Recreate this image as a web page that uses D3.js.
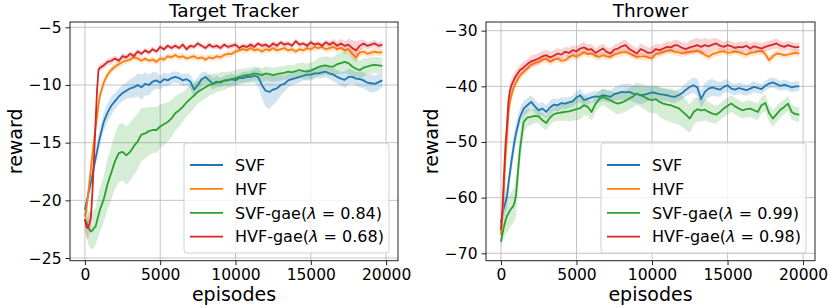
<!DOCTYPE html>
<html>
<head>
<meta charset="utf-8">
<script src="https://cdn.jsdelivr.net/npm/d3@7"></script>
<style>
  body { margin: 0; background: #fff; }
  text { font-family: "DejaVu Sans", sans-serif; fill: #000; }
</style>
</head>
<body>
<svg id="fig" width="830" height="308"></svg>
<script>
const episodes = [0,100,200,300,400,500,600,700,800,900,
  1000,1250,1500,1750,2000,2250,2500,2750,3000,3250,
  3500,3750,4000,4250,4500,4750,5000,5250,5500,5750,
  6000,6250,6500,6750,7000,7250,7500,7750,8000,8250,
  8500,8750,9000,9250,9500,9750,10000,10250,10500,10750,
  11000,11250,11500,11750,12000,12250,12500,12750,13000,13250,
  13500,13750,14000,14250,14500,14750,15000,15250,15500,15750,
  16000,16250,16500,16750,17000,17250,17500,17750,18000,18250,
  18500,18750,19000,19250,19500,19750];

const seriesNames = ["SVF", "HVF", "SVF-gae", "HVF-gae"];
const seriesColors = ["#1f77b4", "#ff7f0e", "#2ca02c", "#d62728"];
const xTicks = [0, 5000, 10000, 15000, 20000];

// ---- Target Tracker ----
const ttSVF = [-20.8,-20.2,-19.6,-19.0,-18.4,-17.8,-17.1,-16.4,-15.8,-15.1,
  -14.5,-13.2,-12.4,-11.8,-11.4,-11.0,-10.7,-10.5,-10.3,-10.2,
  -10.0,-10.2,-9.9,-10.0,-9.7,-9.6,-9.8,-9.5,-9.6,-9.4,
  -9.3,-9.4,-9.6,-9.5,-9.7,-10.4,-10.0,-9.5,-9.3,-9.6,
  -9.9,-9.7,-9.8,-9.6,-9.6,-9.5,-9.6,-9.4,-9.4,-9.3,
  -9.3,-9.2,-9.3,-10.0,-10.5,-10.6,-10.4,-10.3,-10.0,-9.9,
  -9.6,-9.5,-9.4,-9.3,-9.2,-9.1,-9.1,-9.0,-9.0,-8.9,
  -8.85,-9.0,-9.1,-9.3,-9.45,-9.55,-9.3,-9.3,-9.45,-9.5,
  -9.6,-9.8,-9.85,-9.9,-9.75,-9.6];
const ttHVF = [-21.4,-20.8,-19.6,-18.4,-17.2,-16.0,-14.9,-13.8,-12.8,-11.7,
  -10.9,-9.8,-9.1,-8.7,-8.4,-8.2,-8.0,-7.9,-7.8,-7.6,
  -7.7,-7.9,-7.7,-7.9,-7.8,-8.0,-7.7,-7.8,-7.5,-7.6,
  -7.4,-7.6,-7.5,-7.7,-7.6,-7.5,-7.7,-7.6,-7.8,-7.6,
  -7.7,-7.5,-7.6,-7.4,-7.3,-7.3,-7.1,-7.0,-6.9,-7.0,
  -6.8,-7.0,-6.9,-7.1,-6.9,-7.0,-6.8,-7.0,-6.9,-6.8,
  -7.0,-6.9,-7.1,-6.9,-7.0,-6.8,-6.9,-6.7,-6.8,-6.7,
  -6.9,-6.8,-6.7,-6.9,-6.8,-7.0,-6.9,-7.3,-7.6,-7.2,
  -7.1,-7.3,-7.2,-7.1,-7.2,-7.15];
const ttSVFgae = [-21.7,-21.9,-22.3,-22.5,-22.7,-22.6,-22.4,-22.3,-21.8,-21.3,
  -20.8,-19.9,-18.6,-17.6,-16.6,-15.9,-15.8,-16.1,-15.8,-15.3,
  -14.9,-14.3,-14.2,-14.0,-13.9,-13.9,-13.6,-13.4,-13.2,-12.9,
  -12.45,-12.2,-11.9,-11.5,-11.2,-10.9,-10.6,-10.4,-10.2,-10.0,
  -9.9,-9.8,-9.7,-9.65,-9.55,-9.5,-9.4,-9.3,-9.2,-9.15,
  -9.1,-9.0,-9.05,-9.15,-9.0,-9.05,-9.15,-9.05,-9.0,-8.95,
  -8.85,-8.9,-8.8,-8.7,-8.8,-8.85,-8.75,-8.6,-8.45,-8.35,
  -8.3,-8.4,-8.4,-8.2,-8.1,-8.0,-8.1,-8.4,-8.6,-8.7,
  -8.5,-8.4,-8.3,-8.25,-8.3,-8.35];
const ttHVFgae = [-21.6,-22.3,-22.4,-22.0,-21.5,-19.2,-16.5,-13.5,-10.6,-8.7,
  -8.5,-8.3,-8.0,-7.9,-7.7,-7.9,-7.5,-7.6,-7.3,-7.5,
  -7.1,-7.3,-7.0,-7.2,-6.9,-7.1,-6.7,-6.9,-6.6,-6.8,
  -6.6,-6.8,-6.5,-6.9,-6.6,-6.7,-6.4,-6.6,-6.8,-6.5,
  -6.7,-6.6,-6.8,-6.5,-6.7,-6.6,-6.5,-6.8,-6.6,-6.7,
  -6.5,-6.7,-6.4,-6.6,-6.5,-6.7,-6.4,-6.6,-6.3,-6.5,
  -6.4,-6.6,-6.2,-6.5,-6.4,-6.6,-6.3,-6.5,-6.4,-6.6,
  -6.3,-6.5,-6.3,-6.6,-6.4,-6.6,-6.5,-6.8,-7.0,-6.6,
  -6.4,-6.6,-6.5,-6.4,-6.6,-6.5];
// half widths of the shaded bands
const ttSVFband = [0.4,0.4,0.5,0.5,0.5,0.6,0.6,0.6,0.7,0.7,
  0.8,0.8,0.8,0.8,0.7,0.7,0.7,0.7,0.8,0.9,
  1.0,1.1,1.0,0.9,0.8,0.7,0.6,0.6,0.5,0.5,
  0.5,0.5,0.5,0.5,0.6,0.7,0.7,0.6,0.5,0.5,
  0.5,0.5,0.4,0.4,0.5,0.5,0.4,0.4,0.5,0.5,
  0.5,0.6,0.8,1.1,1.4,1.5,1.3,1.1,0.9,0.7,
  0.6,0.5,0.5,0.5,0.4,0.5,0.5,0.5,0.4,0.5,
  0.5,0.5,0.6,0.6,0.6,0.7,0.7,0.6,0.6,0.7,
  0.7,0.7,0.8,0.7,0.7,0.6];
const ttHVFband = [0.6,0.6,0.6,0.6,0.6,0.6,0.5,0.5,0.5,0.5,
  0.5,0.4,0.35,0.3,0.3,0.3,0.3,0.25,0.25,0.25,
  0.25,0.3,0.25,0.25,0.3,0.25,0.25,0.3,0.25,0.25,
  0.25,0.3,0.3,0.25,0.25,0.3,0.25,0.25,0.3,0.25,
  0.25,0.25,0.3,0.25,0.25,0.3,0.25,0.25,0.3,0.25,
  0.25,0.3,0.25,0.25,0.3,0.25,0.25,0.3,0.25,0.25,
  0.25,0.3,0.25,0.25,0.3,0.25,0.25,0.3,0.25,0.25,
  0.3,0.3,0.3,0.3,0.3,0.35,0.4,0.5,0.5,0.4,
  0.3,0.3,0.3,0.3,0.3,0.3];
const ttSVFgaeBand = [1.0,1.2,1.4,1.5,1.6,1.6,1.6,1.6,1.7,1.8,
  1.9,2.0,2.2,2.3,2.4,2.5,2.5,2.5,2.5,2.5,
  2.4,2.3,2.2,2.1,2.0,2.0,1.9,1.8,1.7,1.6,
  1.5,1.4,1.3,1.2,1.2,1.1,1.0,1.0,1.0,0.9,
  0.9,0.8,0.8,0.8,0.7,0.7,0.7,0.7,0.6,0.6,
  0.6,0.6,0.6,0.6,0.6,0.6,0.6,0.6,0.6,0.6,
  0.6,0.6,0.6,0.6,0.7,0.7,0.7,0.7,0.8,0.8,
  0.8,0.8,0.8,0.9,0.9,1.0,1.0,0.9,0.9,0.8,
  0.8,0.7,0.7,0.7,0.7,0.7];
const ttHVFgaeBand = [0.8,0.9,1.0,0.9,0.8,0.7,0.6,0.5,0.4,0.35,
  0.3,0.3,0.3,0.3,0.25,0.25,0.25,0.25,0.25,0.25,
  0.25,0.25,0.2,0.25,0.25,0.2,0.25,0.25,0.2,0.25,
  0.25,0.2,0.25,0.25,0.2,0.25,0.25,0.2,0.25,0.25,
  0.2,0.25,0.25,0.2,0.25,0.25,0.2,0.25,0.25,0.2,
  0.25,0.25,0.2,0.25,0.25,0.2,0.25,0.25,0.2,0.25,
  0.25,0.2,0.25,0.25,0.2,0.25,0.25,0.2,0.25,0.25,
  0.25,0.3,0.3,0.35,0.4,0.4,0.5,0.7,0.8,0.5,
  0.35,0.3,0.3,0.3,0.3,0.3];
const ttYTicks = [-25, -20, -15, -10, -5];
const ttLambdas = ["0.84", "0.68"];

// ---- Thrower ----
const thSVF = [-64.5,-63.0,-61.8,-60.8,-59.8,-57.4,-55.4,-53.4,-51.6,-49.8,
  -48.4,-45.6,-44.0,-43.4,-42.8,-43.6,-44.3,-44.0,-44.6,-43.8,
  -43.3,-43.4,-43.0,-43.1,-42.9,-42.7,-42.0,-41.6,-42.5,-42.2,
  -42.0,-41.8,-41.9,-41.6,-41.7,-41.9,-41.4,-41.2,-41.0,-41.1,
  -41.0,-41.3,-41.4,-41.6,-41.5,-41.3,-41.1,-41.2,-41.4,-41.5,
  -41.6,-41.8,-41.9,-41.6,-41.2,-40.6,-40.1,-39.8,-40.2,-42.3,
  -41.0,-40.4,-40.2,-40.4,-40.6,-40.1,-39.8,-40.4,-40.6,-40.3,
  -40.5,-40.7,-40.4,-40.1,-40.3,-40.5,-39.9,-39.5,-39.3,-39.6,
  -39.9,-39.7,-39.9,-40.2,-40.0,-40.0];
const thHVF = [-66.7,-63.5,-58.5,-53.0,-49.0,-44.8,-42.8,-41.6,-40.6,-39.9,
  -39.3,-38.1,-37.4,-36.8,-36.1,-35.8,-35.6,-35.2,-35.0,-35.6,
  -35.2,-35.0,-35.4,-35.3,-34.8,-34.4,-34.7,-34.3,-33.9,-34.2,
  -34.1,-34.5,-34.7,-34.4,-34.6,-34.7,-34.3,-34.1,-33.9,-33.8,
  -34.1,-34.4,-34.7,-34.6,-34.6,-34.8,-35.0,-34.2,-34.0,-33.8,
  -33.6,-33.5,-33.8,-33.9,-34.1,-33.9,-33.8,-33.7,-33.6,-33.9,
  -34.3,-34.7,-34.2,-34.0,-33.8,-33.7,-34.0,-33.9,-33.7,-33.9,
  -34.1,-34.3,-34.0,-33.9,-33.7,-33.6,-34.2,-35.3,-34.6,-34.1,
  -34.2,-34.4,-34.3,-34.1,-34.0,-34.1];
const thSVFgae = [-67.9,-66.5,-65.2,-64.1,-63.3,-62.8,-62.3,-61.9,-61.6,-60.9,
  -59.5,-51.5,-46.4,-45.6,-45.5,-45.3,-45.4,-46.1,-46.6,-45.6,
  -45.0,-44.8,-44.7,-44.6,-44.5,-44.3,-44.1,-43.9,-43.4,-43.7,
  -44.6,-43.2,-42.3,-41.9,-42.2,-42.5,-42.9,-43.1,-42.9,-42.6,
  -42.2,-41.8,-41.3,-41.6,-41.9,-42.3,-42.5,-42.3,-42.8,-43.1,
  -43.3,-43.4,-43.7,-43.9,-44.5,-45.1,-45.8,-44.6,-44.1,-44.3,
  -44.2,-44.6,-44.9,-45.1,-44.6,-44.0,-43.5,-43.1,-43.6,-44.0,
  -44.3,-44.1,-44.0,-44.3,-44.6,-43.4,-43.0,-44.8,-45.8,-45.0,
  -44.2,-43.7,-43.1,-44.6,-45.0,-45.1];
const thHVFgae = [-65.8,-62.0,-56.0,-50.5,-47.0,-42.5,-40.8,-39.8,-39.2,-38.6,
  -38.1,-37.1,-36.6,-36.0,-35.5,-35.3,-35.0,-34.6,-34.4,-34.8,
  -34.5,-34.1,-34.3,-33.8,-34.0,-33.5,-33.7,-33.2,-33.0,-33.4,
  -33.3,-34.0,-33.6,-33.2,-33.8,-34.1,-33.4,-33.2,-32.8,-32.6,
  -33.3,-33.7,-34.1,-33.3,-33.6,-34.0,-33.9,-33.3,-33.5,-33.2,
  -32.9,-33.0,-32.6,-32.7,-33.1,-33.3,-33.0,-32.8,-32.6,-32.9,
  -32.6,-32.8,-32.5,-32.3,-32.7,-32.9,-32.6,-32.8,-33.1,-32.9,
  -33.0,-32.7,-33.2,-32.8,-33.0,-33.2,-32.9,-32.7,-32.5,-32.3,
  -32.7,-32.9,-32.6,-32.8,-33.0,-32.9];
const thSVFband = [1.0,1.4,1.8,2.0,2.0,2.0,2.0,2.0,1.9,1.8,
  1.8,1.6,1.4,1.3,1.2,1.2,1.2,1.2,1.2,1.2,
  1.1,1.1,1.1,1.0,1.0,1.0,1.1,1.2,1.1,1.0,
  1.0,1.0,1.0,1.1,1.1,1.1,1.2,1.3,1.4,1.5,
  1.5,1.5,1.6,1.6,1.5,1.4,1.3,1.2,1.2,1.1,
  1.1,1.1,1.1,1.1,1.1,1.2,1.3,1.4,1.5,1.6,
  1.6,1.6,1.5,1.4,1.3,1.2,1.1,1.0,1.0,1.0,
  1.0,1.0,1.0,1.0,0.9,0.9,0.9,0.9,0.9,0.9,
  0.9,0.9,0.9,0.9,0.9,0.9];
const thHVFband = [0.8,1.0,1.2,1.3,1.3,1.2,1.1,1.0,0.9,0.9,
  0.8,0.8,0.7,0.7,0.7,0.7,0.7,0.7,0.7,0.7,
  0.6,0.7,0.6,0.6,0.7,0.6,0.6,0.7,0.6,0.6,
  0.6,0.7,0.6,0.6,0.7,0.6,0.6,0.7,0.6,0.6,
  0.6,0.7,0.6,0.6,0.7,0.6,0.6,0.7,0.6,0.6,
  0.6,0.7,0.6,0.6,0.7,0.6,0.6,0.7,0.6,0.6,
  0.6,0.7,0.6,0.6,0.7,0.6,0.6,0.7,0.6,0.6,
  0.6,0.7,0.6,0.6,0.7,0.6,0.7,0.8,0.7,0.6,
  0.6,0.6,0.6,0.6,0.6,0.6];
const thSVFgaeBand = [1.2,1.5,2.0,2.5,3.0,3.0,3.0,3.0,3.0,3.2,
  3.5,3.0,2.0,1.6,1.4,1.3,1.3,1.3,1.3,1.3,
  1.3,1.4,1.5,1.6,1.8,1.9,2.0,2.0,1.8,1.6,
  1.6,1.5,1.5,1.5,1.6,1.7,1.8,1.9,1.9,1.9,
  1.9,2.0,2.0,2.1,2.2,2.3,2.4,2.5,2.7,2.8,
  2.9,3.0,3.0,2.9,2.8,2.7,2.6,2.4,2.2,2.0,
  1.9,1.8,1.7,1.6,1.5,1.5,1.5,1.5,1.5,1.5,
  1.5,1.5,1.5,1.5,1.5,1.5,1.5,1.5,1.5,1.4,
  1.4,1.3,1.3,1.3,1.3,1.3];
const thHVFgaeBand = [1.0,1.2,1.5,1.8,2.0,1.8,1.5,1.3,1.2,1.1,
  1.0,1.0,1.0,1.0,1.0,1.0,1.0,1.0,1.0,1.0,
  1.0,1.0,0.9,0.9,0.9,0.9,0.9,0.9,0.9,0.9,
  0.9,0.9,0.9,0.9,0.9,0.9,0.9,0.9,1.0,1.0,
  1.0,1.0,1.0,1.0,1.0,1.0,1.0,1.0,1.0,1.0,
  1.0,1.0,1.0,1.0,1.0,1.1,1.2,1.3,1.3,1.3,
  1.3,1.2,1.1,1.0,1.0,0.9,0.9,0.9,0.9,0.9,
  0.9,0.9,0.9,0.9,0.9,0.9,0.9,0.9,0.9,0.9,
  0.8,0.8,0.8,0.8,0.8,0.8];
const thYTicks = [-70, -60, -50, -40, -30];
const thLambdas = ["0.99", "0.98"];

var svg = d3.select("#fig");

function drawPanel(opt) {
  var x = d3.scaleLinear().domain([-990, 20790]).range([opt.left, opt.right]);
  var y = d3.scaleLinear().domain(opt.yDomain).range([opt.bottom, opt.top]);
  var g = svg.append("g");

  var clipId = "clip-" + opt.id;
  g.append("clipPath").attr("id", clipId)
    .append("rect")
    .attr("x", opt.left).attr("y", opt.top)
    .attr("width", opt.right - opt.left).attr("height", opt.bottom - opt.top);

  // grid
  g.selectAll("line.gx").data(xTicks).enter().append("line")
    .attr("x1", d => x(d)).attr("x2", d => x(d))
    .attr("y1", opt.top).attr("y2", opt.bottom)
    .attr("stroke", "#c4c4c4").attr("stroke-width", 1);
  g.selectAll("line.gy").data(opt.yTicks).enter().append("line")
    .attr("x1", opt.left).attr("x2", opt.right)
    .attr("y1", d => y(d)).attr("y2", d => y(d))
    .attr("stroke", "#c4c4c4").attr("stroke-width", 1);

  var plot = g.append("g").attr("clip-path", "url(#" + clipId + ")");
  opt.series.forEach(function(s, k) {
    var area = d3.area()
      .x((d, i) => x(episodes[i]))
      .y0((d, i) => y(d - s.band[i]))
      .y1((d, i) => y(d + s.band[i]));
    plot.append("path")
      .attr("d", area(s.values))
      .attr("fill", seriesColors[k])
      .attr("fill-opacity", 0.2);
    var line = d3.line().x((d, i) => x(episodes[i])).y(d => y(d));
    plot.append("path")
      .attr("d", line(s.values))
      .attr("fill", "none")
      .attr("stroke", seriesColors[k])
      .attr("stroke-width", 1.8)
      .attr("stroke-linejoin", "round");
  });

  // axes
  var xAxis = d3.axisBottom(x).tickValues(xTicks).tickSize(4.5).tickPadding(4).tickFormat(d3.format("d"));
  var yAxis = d3.axisLeft(y).tickValues(opt.yTicks).tickSize(4.5).tickPadding(4)
    .tickFormat(d => d < 0 ? "\u2212" + Math.abs(d) : d);
  var gx = g.append("g").attr("transform", `translate(0,${opt.bottom})`).call(xAxis);
  var gy = g.append("g").attr("transform", `translate(${opt.left},0)`).call(yAxis);
  [gx, gy].forEach(a => {
    a.select(".domain").remove();
    a.selectAll(".tick line").attr("stroke", "#222").attr("stroke-width", 1);
    a.selectAll(".tick text").style("font-size", "15.5px").attr("fill", "#000")
      .style("font-family", "'DejaVu Sans', sans-serif");
  });

  g.append("rect")
    .attr("x", opt.left).attr("y", opt.top)
    .attr("width", opt.right - opt.left).attr("height", opt.bottom - opt.top)
    .attr("fill", "none").attr("stroke", "#222").attr("stroke-width", 1);

  // titles and labels
  var cx = (opt.left + opt.right) / 2;
  g.append("text").attr("x", cx).attr("y", 17)
    .attr("text-anchor", "middle").style("font-size", "18.5px").text(opt.title);
  g.append("text").attr("x", cx).attr("y", 301)
    .attr("text-anchor", "middle").style("font-size", "19px").text("episodes");
  g.append("text")
    .attr("transform", `translate(${opt.left - 48},${(opt.top + opt.bottom) / 2}) rotate(-90)`)
    .attr("text-anchor", "middle").style("font-size", "19px").text("reward");

  // legend
  var lw = 205, lh = 110;
  var lx = opt.right - 9 - lw, ly = opt.bottom - 7.7 - lh;
  var leg = g.append("g");
  leg.append("rect")
    .attr("x", lx).attr("y", ly).attr("width", lw).attr("height", lh)
    .attr("rx", 3).attr("fill", "#fff").attr("fill-opacity", 0.8)
    .attr("stroke", "#d0d0d0").attr("stroke-width", 1);
  seriesNames.forEach(function(name, k) {
    var ry = ly + 22 + k * 23.9;
    leg.append("line")
      .attr("x1", lx + 6).attr("x2", lx + 39)
      .attr("y1", ry).attr("y2", ry)
      .attr("stroke", seriesColors[k]).attr("stroke-width", 1.8);
    var t = leg.append("text").attr("x", lx + 51).attr("y", ry)
      .attr("dy", "0.36em").style("font-size", "16px");
    if (k < 2) {
      t.text(name);
    } else {
      t.append("tspan").text(name + "(");
      t.append("tspan").style("font-style", "italic").text("\u03bb");
      t.append("tspan").text(" = " + opt.lambdas[k - 2] + ")");
    }
  });
}

drawPanel({
  id: "tt", title: "Target Tracker",
  left: 70, right: 398, top: 22, bottom: 260.7,
  yDomain: [-25.23, -4.54], yTicks: ttYTicks, lambdas: ttLambdas,
  series: [
    {values: ttSVF, band: ttSVFband},
    {values: ttHVF, band: ttHVFband},
    {values: ttSVFgae, band: ttSVFgaeBand},
    {values: ttHVFgae, band: ttHVFgaeBand}
  ]
});

drawPanel({
  id: "th", title: "Thrower",
  left: 486, right: 815, top: 22, bottom: 260.7,
  yDomain: [-71.33, -28.44], yTicks: thYTicks, lambdas: thLambdas,
  series: [
    {values: thSVF, band: thSVFband},
    {values: thHVF, band: thHVFband},
    {values: thSVFgae, band: thSVFgaeBand},
    {values: thHVFgae, band: thHVFgaeBand}
  ]
});
</script>
</body>
</html>
